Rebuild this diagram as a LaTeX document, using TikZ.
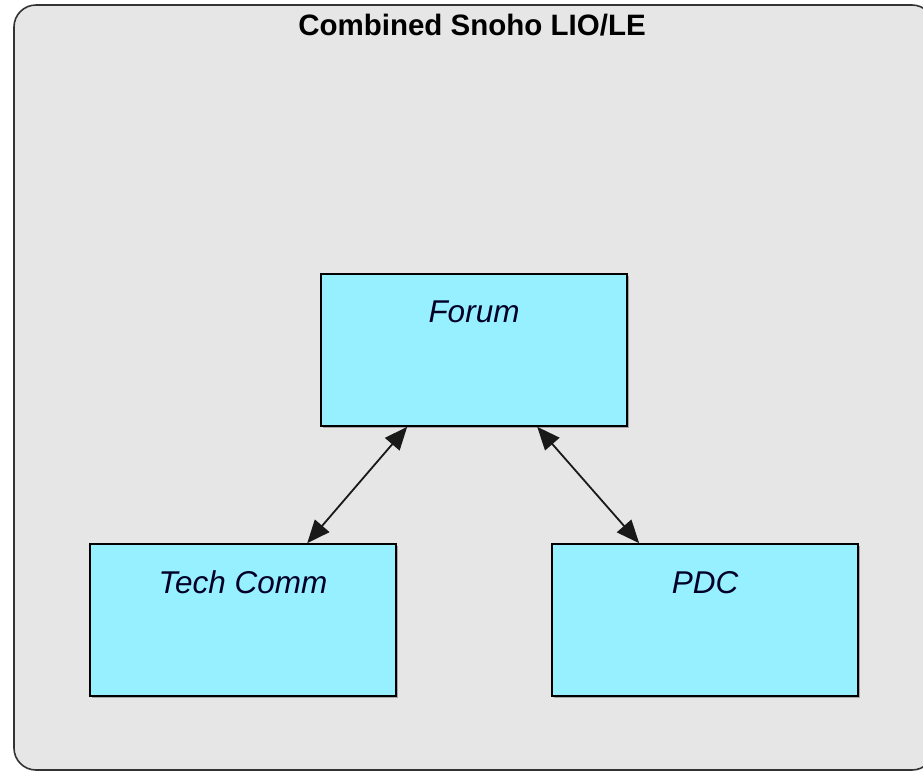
\documentclass[tikz,border=0pt]{standalone}
\usepackage{fontspec}
\setmainfont{Liberation Sans}
\usetikzlibrary{arrows.meta,shadows,calc}
\definecolor{bgc}{RGB}{230,230,230}
\definecolor{boxc}{RGB}{150,240,255}
\begin{document}
\begin{tikzpicture}[x=1pt,y=-1pt,
  box/.style={draw=black, fill=boxc, line width=1.6pt, minimum width=306pt, minimum height=152pt, inner sep=0pt,
    drop shadow={shadow xshift=1.5pt, shadow yshift=-1.5pt, fill=black!35, opacity=1}},
  lbl/.style={font=\itshape\fontsize{31.5}{34}\selectfont, text=black!85!blue},
  arr/.style={{Triangle[length=23pt,width=19pt]}-{Triangle[length=23pt,width=19pt]}, line width=1.8pt, draw=black!90}]
\useasboundingbox (0,0) rectangle (923,772);
\draw[fill=bgc, draw=black!80, line width=1.6pt, rounded corners=22pt] (14,5) rectangle (934,770);
\node[font=\bfseries\fontsize{29.5}{32}\selectfont] (title) at (472,25) {Combined Snoho LIO/LE};
\node[box] (forum) at (474,350) {};
\node[box] (tech) at (243,620) {};
\node[box] (pdc) at (705,620) {};
\node[lbl] (forumt) at ($(forum.north)+(0,39)$) {Forum};
\node[lbl] (techt) at ($(tech.north)+(0,39)$) {Tech Comm};
\node[lbl] (pdct) at ($(pdc.north)+(0,39)$) {PDC};
\draw[arr] ([xshift=87pt]forum.south west) -- ([xshift=218pt]tech.north west);
\draw[arr] ([xshift=217pt]forum.south west) -- ([xshift=88pt]pdc.north west);
\end{tikzpicture}
\end{document}
